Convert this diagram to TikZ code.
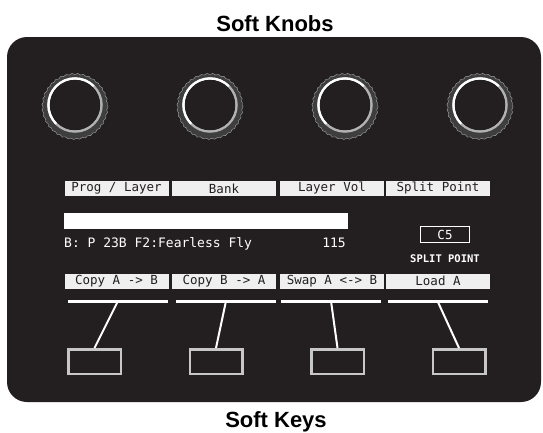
\documentclass[tikz,border=0pt]{standalone}
\usepackage{fontspec}
\setmainfont{Liberation Sans}
\newfontfamily\lcdfont{DejaVu Sans Mono}
\usepackage{xcolor}
\usepackage{tikz}
\usetikzlibrary{positioning, calc, decorations.pathmorphing}

\definecolor{panelbg}{HTML}{231F20}
\definecolor{knobband}{HTML}{3E3E3E}
\definecolor{lcdgray}{HTML}{EFEFEF}

\tikzset{
    softlabel/.style={fill=lcdgray, minimum width=104pt, minimum height=15pt, inner sep=0pt,
        text=panelbg, font=\lcdfont\fontsize{12.5}{12.5}\selectfont},
    keybar/.style={fill=white, minimum width=100pt, minimum height=3pt, inner sep=0pt},
    softkey/.style={draw=white!78!black, line width=2.5pt, fill=panelbg,
        minimum width=52.5pt, minimum height=24.5pt, inner sep=0pt},
    lcdtext/.style={text=white, inner sep=0pt, font=\lcdfont\fontsize{13}{13}\selectfont}
}

\begin{document}
\begin{tikzpicture}
\begin{scope}[x=1pt, y=-1pt]
    \useasboundingbox (0,0) rectangle (543,432);

    % Panel
    \fill[panelbg, rounded corners=20pt] (7,37) rectangle (541,402);

    % Titles
    \node[anchor=base, inner sep=0pt, font=\bfseries\fontsize{22}{24}\selectfont] (knobtitle) at (275,31) {Soft Knobs};
    \node[anchor=base, inner sep=0pt, font=\bfseries\fontsize{22}{24}\selectfont] (keytitle) at (276,427) {Soft Keys};

    % Knobs
    \foreach \x in {75,210,345,480} {
        \filldraw[fill=knobband, draw=gray!70, line width=0.4pt, decorate,
            decoration={snake, segment length=5.76pt, amplitude=0.6pt}] (\x,105) circle (32.5);
        \draw[line width=2.5pt, gray!60] (\x,105) circle (26.5);
        \draw[line width=2.5pt, white] (\x,105) ++(135:26.5) arc (135:315:26.5);
        \fill[panelbg] (\x,105) circle (25.2);
    }

    % Knob labels
    \foreach \x/\label [count=\i] in {116.5/{Prog / Layer}, 224/Bank, 332/{Layer Vol}, 438/{Split Point}}
        \node[softlabel] (knoblabel\i) at (\x,188.5) {\label};

    % Program line
    \node[fill=white, minimum width=284pt, minimum height=16pt, inner sep=0pt] (namebar) at (206,221) {};
    \node[lcdtext, anchor=base west] (progname) at (64,247) {B: P 23B F2:Fearless Fly};
    \node[lcdtext, anchor=base east] (progvol) at (346,247) {115};

    % Split point
    \node[draw=white, line width=1pt, minimum width=49pt, minimum height=16pt, inner sep=0pt,
        text=white, font=\lcdfont\fontsize{12.5}{12.5}\selectfont] (splitkey) at (445,234.5) {C5};
    \node[anchor=base, inner sep=0pt, text=white, font=\lcdfont\bfseries\fontsize{10.5}{10.5}\selectfont] (splitname) at (445,262) {SPLIT POINT};

    % Key labels
    \foreach \x/\label [count=\i] in {116.5/{Copy A -> B}, 224/{Copy B -> A}, 332/{Swap A <-> B}, 438/{Load A}}
        \node[softlabel] (keylabel\i) at (\x,281) {\label};

    % Keys
    \foreach \bx/\kx [count=\i] in {118/94.5, 226/216, 331/337.5, 437.5/459} {
        \node[keybar] (bar\i) at (\bx,301) {};
        \node[softkey] (key\i) at (\kx,361.5) {};
        \draw[white, line width=2pt] (bar\i.center) -- (key\i.north);
    }
\end{scope}
\end{tikzpicture}
\end{document}
